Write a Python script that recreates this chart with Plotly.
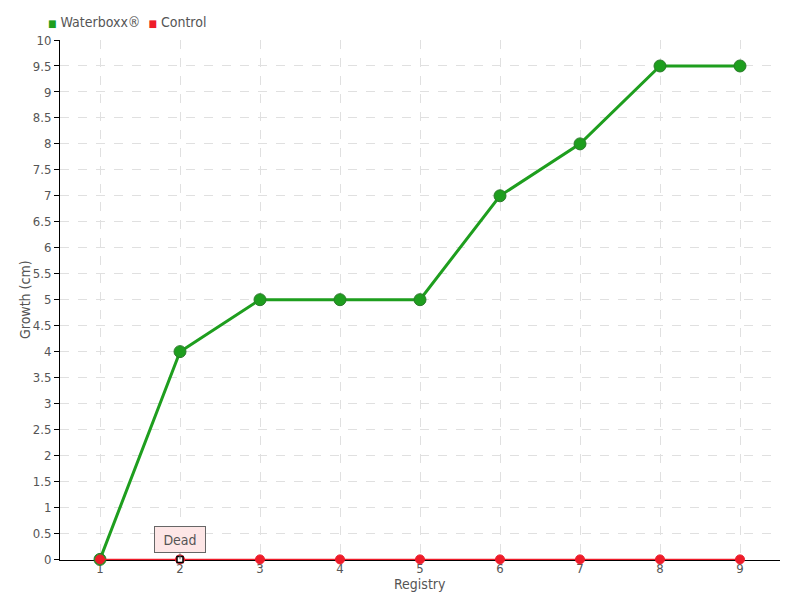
import plotly.graph_objects as go

registry = [1, 2, 3, 4, 5, 6, 7, 8, 9]
waterboxx = [0, 4, 5, 5, 5, 7, 8, 9.5, 9.5]
control = [0, 0, 0, 0, 0, 0, 0, 0, 0]
dead_registry = [2]
dead_growth = [0]
dead_label = "Dead"
y_ticks = [i * 0.5 for i in range(21)]
y_tick_labels = ["0", "0.5", "1", "1.5", "2", "2.5", "3", "3.5", "4", "4.5", "5",
                 "5.5", "6", "6.5", "7", "7.5", "8", "8.5", "9", "9.5", "10"]
series_names = ["Waterboxx®", "Control"]
x_title = "Registry"
y_title = "Growth (cm)"

font_family = "Liberation Sans Narrow, DejaVu Sans Condensed, Roboto, sans-serif"
grey = "#555555"

green = "#1e9e1e"
red = "#ee1c2a"

# The page body has an 8px margin; compensate so the plot lands where the reference has it.
OFF = 8
PW, PH = 720, 520

fig = go.Figure()
fig.add_trace(go.Scatter(
    x=registry, y=waterboxx, name=series_names[0], mode="lines+markers",
    line=dict(color=green, width=3),
    marker=dict(size=12, color=green, line=dict(color="#2a7a2a", width=1)),
    cliponaxis=False, showlegend=False,
))
fig.add_trace(go.Scatter(
    x=registry, y=control, name=series_names[1], mode="lines+markers",
    line=dict(color=red, width=1.5),
    marker=dict(size=9, color=red, line=dict(color=red, width=1)),
    cliponaxis=False, showlegend=False,
))
fig.add_trace(go.Scatter(
    x=dead_registry, y=dead_growth, mode="markers",
    marker=dict(size=6, color="white", symbol="square", line=dict(color="black", width=1.5)),
    cliponaxis=False, showlegend=False, hoverinfo="skip",
))

fig.add_annotation(
    x=dead_registry[0], y=dead_growth[0], text=dead_label,
    showarrow=True, arrowhead=0, arrowwidth=1, arrowcolor="#666666",
    ax=0, ay=-6, yanchor="bottom",
    bgcolor="#fde6e6", bordercolor="#666666", borderwidth=1, borderpad=4,
    width=42, height=17,
    font=dict(family=font_family, size=14, color=grey),
)

# legend drawn as text with coloured squares
legend_text = (f"<span style='color:{green};font-size:10px'>■</span> {series_names[0]}  "
               f"<span style='color:{red};font-size:10px'>■</span> {series_names[1]}")
fig.add_annotation(
    xref="paper", yref="paper", x=-14 / PW, y=1 + 18 / PH,
    xanchor="left", yanchor="middle", showarrow=False, text=legend_text,
    font=dict(family=font_family, size=14, color=grey),
)

# axis titles (placed to match reference)
fig.add_annotation(
    xref="paper", yref="paper", x=0.5, y=-24 / PH,
    xanchor="center", yanchor="middle", showarrow=False, text=x_title,
    font=dict(family=font_family, size=14, color=grey),
)
fig.add_annotation(
    xref="paper", yref="paper", x=-35 / PW, y=0.5,
    xanchor="center", yanchor="middle", showarrow=False, text=y_title, textangle=-90,
    font=dict(family=font_family, size=14, color=grey),
)

fig.update_layout(
    width=800, height=600,
    margin=dict(l=60 - OFF, r=20 + OFF, t=40 - OFF, b=40 + OFF),
    plot_bgcolor="white", paper_bgcolor="white",
    font=dict(family=font_family, size=14, color=grey),
    showlegend=False,
    xaxis=dict(
        range=[0.5, 9.5], tickmode="array", tickvals=registry,
        ticktext=[str(r) for r in registry],
        showgrid=True, gridcolor="#e0e0e0", griddash="dash", gridwidth=1,
        showline=True, linecolor="black", linewidth=1,
        ticks="", zeroline=False, automargin=False, layer="below traces",
        ticklabelstandoff=-4, tickfont=dict(size=13),
    ),
    yaxis=dict(
        range=[-0.012, 10], tickmode="array", tickvals=y_ticks, ticktext=y_tick_labels,
        showgrid=True, gridcolor="#e0e0e0", griddash="dash", gridwidth=1,
        showline=True, linecolor="black", linewidth=1,
        ticks="outside", ticklen=5, tickcolor="black", zeroline=False,
        automargin=False, layer="below traces", tickfont=dict(size=13),
    ),
)

fig.write_html("out.html")
